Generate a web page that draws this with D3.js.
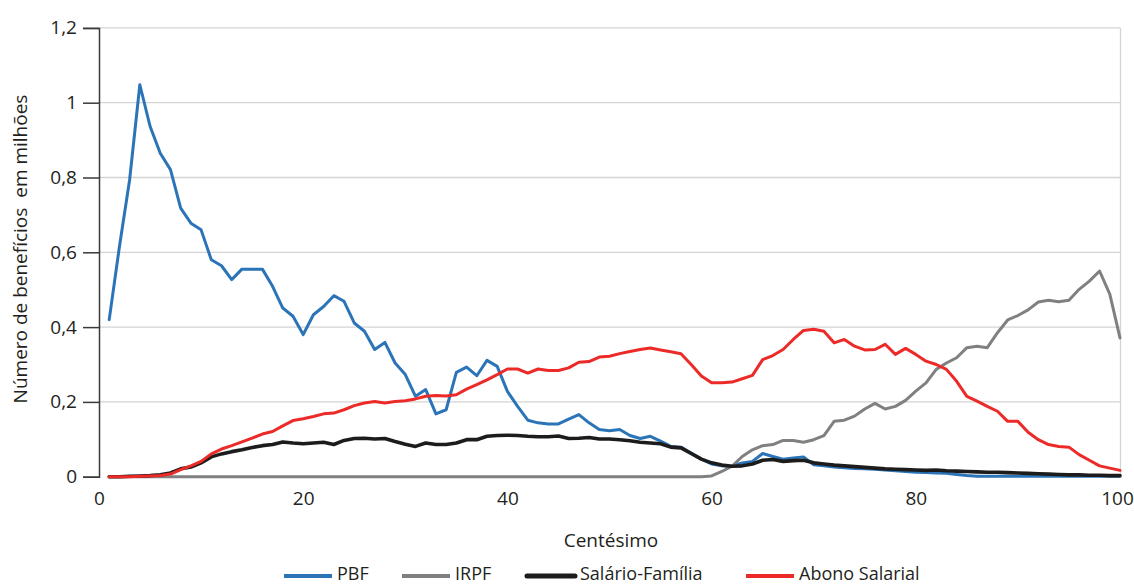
<!DOCTYPE html>
<html>
<head>
<meta charset="utf-8">
<script src="https://cdn.jsdelivr.net/npm/d3@7"></script>
<style>
  body { margin: 0; background: #fff; }
  text { font-family: "Open Sans", sans-serif; fill: #231f20; }
</style>
</head>
<body>
<div id="chart"></div>
<script>
// centile (1..100) on x, benefits in millions on y
var centiles = d3.range(1, 101);

var pbf = [0.42, 0.615, 0.794, 1.048, 0.937, 0.865, 0.821, 0.718, 0.678, 0.660,
  0.580, 0.564, 0.527, 0.555, 0.555, 0.555, 0.509, 0.451, 0.429, 0.380,
  0.433, 0.455, 0.484, 0.469, 0.411, 0.389, 0.340, 0.359, 0.304, 0.273,
  0.215, 0.233, 0.168, 0.179, 0.279, 0.293, 0.270, 0.311, 0.295, 0.228,
  0.188, 0.151, 0.144, 0.141, 0.141, 0.154, 0.166, 0.144, 0.126, 0.123,
  0.126, 0.110, 0.102, 0.108, 0.095, 0.081, 0.079, 0.063, 0.047, 0.034,
  0.029, 0.028, 0.037, 0.041, 0.062, 0.054, 0.047, 0.050, 0.053, 0.032,
  0.029, 0.026, 0.024, 0.022, 0.021, 0.020, 0.018, 0.016, 0.014, 0.012,
  0.011, 0.010, 0.009, 0.006, 0.003, 0.001, 0.001, 0.001, 0.001, 0.001,
  0.001, 0.001, 0.001, 0.001, 0.001, 0.001, 0.001, 0.001, 0.001, 0.001];

var irpf = [0, 0, 0, 0, 0, 0, 0, 0, 0, 0,
  0, 0, 0, 0, 0, 0, 0, 0, 0, 0,
  0, 0, 0, 0, 0, 0, 0, 0, 0, 0,
  0, 0, 0, 0, 0, 0, 0, 0, 0, 0,
  0, 0, 0, 0, 0, 0, 0, 0, 0, 0,
  0, 0, 0, 0, 0, 0, 0, 0, 0, 0.002,
  0.014, 0.028, 0.054, 0.072, 0.083, 0.086, 0.097, 0.097, 0.092, 0.099,
  0.110, 0.148, 0.151, 0.162, 0.181, 0.196, 0.181, 0.188, 0.204, 0.229,
  0.251, 0.287, 0.304, 0.318, 0.345, 0.349, 0.345, 0.385, 0.419, 0.431,
  0.446, 0.467, 0.472, 0.468, 0.472, 0.501, 0.523, 0.550, 0.488, 0.371];

var salarioFamilia = [0, 0, 0.001, 0.002, 0.003, 0.005, 0.010, 0.021, 0.026, 0.037,
  0.053, 0.061, 0.067, 0.072, 0.078, 0.083, 0.086, 0.093, 0.090, 0.088,
  0.090, 0.092, 0.086, 0.097, 0.102, 0.103, 0.101, 0.102, 0.094, 0.087,
  0.081, 0.090, 0.086, 0.086, 0.090, 0.099, 0.099, 0.108, 0.110, 0.111,
  0.110, 0.108, 0.107, 0.107, 0.109, 0.102, 0.103, 0.105, 0.101, 0.101,
  0.099, 0.096, 0.092, 0.090, 0.088, 0.079, 0.077, 0.062, 0.047, 0.037,
  0.031, 0.028, 0.029, 0.034, 0.044, 0.046, 0.041, 0.043, 0.044, 0.037,
  0.034, 0.031, 0.029, 0.027, 0.025, 0.023, 0.021, 0.020, 0.019, 0.018,
  0.017, 0.018, 0.016, 0.015, 0.014, 0.013, 0.012, 0.012, 0.011, 0.010,
  0.009, 0.008, 0.007, 0.006, 0.005, 0.005, 0.004, 0.004, 0.003, 0.003];

var abonoSalarial = [0, 0, 0, 0.001, 0.002, 0.003, 0.007, 0.019, 0.029, 0.041,
  0.061, 0.074, 0.083, 0.093, 0.103, 0.114, 0.121, 0.136, 0.150, 0.155,
  0.161, 0.168, 0.170, 0.179, 0.190, 0.197, 0.201, 0.197, 0.201, 0.203,
  0.208, 0.215, 0.217, 0.216, 0.219, 0.234, 0.246, 0.259, 0.273, 0.288,
  0.288, 0.277, 0.288, 0.284, 0.284, 0.291, 0.306, 0.308, 0.320, 0.322,
  0.329, 0.335, 0.340, 0.344, 0.339, 0.334, 0.329, 0.300, 0.269, 0.251,
  0.251, 0.253, 0.262, 0.271, 0.313, 0.324, 0.340, 0.367, 0.391, 0.394,
  0.389, 0.358, 0.367, 0.349, 0.339, 0.340, 0.354, 0.327, 0.343, 0.327,
  0.309, 0.300, 0.287, 0.255, 0.215, 0.202, 0.188, 0.175, 0.148, 0.148,
  0.119, 0.099, 0.086, 0.081, 0.079, 0.059, 0.044, 0.029, 0.023, 0.017];

var seriesNames = ["PBF", "IRPF", "Salário-Família", "Abono Salarial"];
var seriesValues = [pbf, irpf, salarioFamilia, abonoSalarial];
var seriesColors = ["#2b74b8", "#808080", "#1c1c1c", "#ec2a27"];
var seriesWidths = [3, 3, 3.6, 3];

var yTicks = [0, 0.2, 0.4, 0.6, 0.8, 1, 1.2];
var yTickLabels = ["0", "0,2", "0,4", "0,6", "0,8", "1", "1,2"];
var xTicks = [0, 20, 40, 60, 80, 100];

var svgWidth = 1134;
var svgHeight = 585;

var svg = d3.select("#chart")
  .append("svg")
  .attr("width", svgWidth)
  .attr("height", svgHeight);

var xScale = d3.scaleLinear().domain([0, 100]).range([99, 1120]);
var yScale = d3.scaleLinear().domain([0, 1.2]).range([476.7, 27.9]);

// gridlines
svg.append("g")
  .selectAll("line")
  .data(yTicks.slice(1))
  .enter()
  .append("line")
  .attr("x1", 99)
  .attr("x2", 1120.5)
  .attr("y1", d => yScale(d))
  .attr("y2", d => yScale(d))
  .attr("stroke", "#d4d4d4")
  .attr("stroke-width", 1.3);

// right border of plot area
svg.append("line")
  .attr("x1", 1120.5).attr("x2", 1120.5)
  .attr("y1", yScale(1.2)).attr("y2", yScale(0))
  .attr("stroke", "#d4d4d4")
  .attr("stroke-width", 1.3);

// y axis
var leftAxis = d3.axisLeft(yScale)
  .tickValues(yTicks)
  .tickSize(16)
  .tickPadding(6)
  .tickFormat((d, i) => yTickLabels[i]);

var yAxisG = svg.append("g")
  .attr("transform", "translate(99,0)")
  .call(leftAxis);
yAxisG.select(".domain").attr("stroke", "#3a3a3a").attr("stroke-width", 1.5);
yAxisG.selectAll(".tick line").attr("stroke", "#3a3a3a").attr("stroke-width", 1.5);
yAxisG.selectAll(".tick text")
  .style("font-size", "19px")
  .style("font-family", "'Open Sans', sans-serif")
  .attr("fill", "#231f20");

// x axis (labels only)
var bottomAxis = d3.axisBottom(xScale)
  .tickValues(xTicks)
  .tickSize(0)
  .tickPadding(15)
  .tickFormat(d3.format("d"));

var xAxisG = svg.append("g")
  .attr("transform", "translate(0,477)")
  .call(bottomAxis);
xAxisG.select(".domain").remove();
xAxisG.selectAll(".tick text")
  .style("font-size", "19px")
  .style("font-family", "'Open Sans', sans-serif")
  .attr("fill", "#231f20")
  .attr("dx", d => d == 100 ? -3 : 0);

// lines
var line = d3.line()
  .x((d, i) => xScale(centiles[i]))
  .y(d => yScale(d));

svg.append("g")
  .selectAll("path")
  .data(seriesValues)
  .enter()
  .append("path")
  .attr("d", d => line(d))
  .attr("fill", "none")
  .attr("stroke", (d, i) => seriesColors[i])
  .attr("stroke-width", (d, i) => seriesWidths[i])
  .attr("stroke-linejoin", "round")
  .attr("stroke-linecap", "round");

// axis titles
svg.append("text")
  .attr("x", 611)
  .attr("y", 547)
  .attr("text-anchor", "middle")
  .style("font-size", "19px")
  .text("Centésimo");

svg.append("text")
  .attr("transform", "translate(27,249) rotate(-90)")
  .attr("text-anchor", "middle")
  .style("font-size", "19px")
  .style("white-space", "pre")
  .text("Número de benefícios  em milhões");

// legend
var legendX = [284, 402, 527, 746];
var legend = svg.append("g")
  .selectAll("g")
  .data(seriesNames)
  .enter()
  .append("g")
  .attr("transform", (d, i) => `translate(${legendX[i]},576)`);

legend.append("line")
  .attr("x1", 0).attr("x2", 48)
  .attr("stroke", (d, i) => seriesColors[i])
  .attr("stroke-width", (d, i) => i == 2 ? 5 : 4)
  .attr("stroke-linecap", (d, i) => i == 2 ? "round" : "butt");

legend.append("text")
  .attr("x", 53)
  .attr("y", 4)
  .style("font-size", "18px")
  .text(d => d);
</script>
</body>
</html>
